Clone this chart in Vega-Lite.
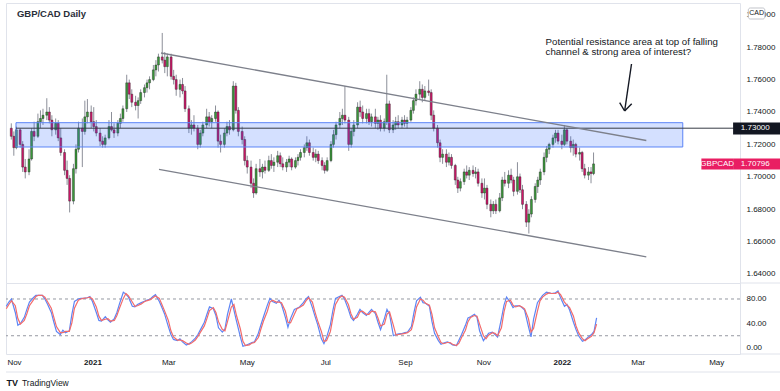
{
"$schema":"https://vega.github.io/schema/vega-lite/v6.json",
"background":"#ffffff",
"padding":{"left":3,"top":2,"right":0,"bottom":0},
"spacing":0,
"bounds":"flush",
"config":{
 "view":{"stroke":"#e0e3eb"},
 "axis":{"labelFont":"Liberation Sans","labelFontSize":8,"labelColor":"#131722","ticks":false,"domain":false,"grid":false,"labelPadding":6,"title":null,"labelOverlap":false,"labelFlush":false},
 "text":{"font":"Liberation Sans"}
},
"datasets":{
"px":[
{"t":"2020-10-26","o":1.7300,"h":1.7330,"l":1.7230,"c":1.7250,"k":68,"d":64},
{"t":"2020-10-28","o":1.7250,"h":1.7280,"l":1.7130,"c":1.7180,"k":75,"d":71},
{"t":"2020-10-30","o":1.7180,"h":1.7310,"l":1.7170,"c":1.7290,"k":80,"d":77},
{"t":"2020-11-02","o":1.7290,"h":1.7300,"l":1.7180,"c":1.7200,"k":58,"d":69},
{"t":"2020-11-04","o":1.7200,"h":1.7220,"l":1.7030,"c":1.7060,"k":37,"d":48},
{"t":"2020-11-06","o":1.7060,"h":1.7110,"l":1.6990,"c":1.7030,"k":40,"d":39},
{"t":"2020-11-09","o":1.7030,"h":1.7170,"l":1.7010,"c":1.7110,"k":50,"d":45},
{"t":"2020-11-11","o":1.7110,"h":1.7300,"l":1.7100,"c":1.7280,"k":63,"d":56},
{"t":"2020-11-13","o":1.7280,"h":1.7340,"l":1.7220,"c":1.7250,"k":75,"d":69},
{"t":"2020-11-16","o":1.7250,"h":1.7390,"l":1.7240,"c":1.7340,"k":82,"d":78},
{"t":"2020-11-18","o":1.7340,"h":1.7410,"l":1.7300,"c":1.7360,"k":86,"d":84},
{"t":"2020-11-20","o":1.7360,"h":1.7420,"l":1.7320,"c":1.7380,"k":86,"d":86},
{"t":"2020-11-23","o":1.7380,"h":1.7485,"l":1.7350,"c":1.7400,"k":86,"d":86},
{"t":"2020-11-25","o":1.7400,"h":1.7430,"l":1.7330,"c":1.7350,"k":80,"d":83},
{"t":"2020-11-27","o":1.7350,"h":1.7380,"l":1.7250,"c":1.7290,"k":72,"d":76},
{"t":"2020-11-30","o":1.7290,"h":1.7360,"l":1.7260,"c":1.7330,"k":58,"d":65},
{"t":"2020-12-02","o":1.7330,"h":1.7350,"l":1.7220,"c":1.7240,"k":42,"d":50},
{"t":"2020-12-04","o":1.7240,"h":1.7300,"l":1.7130,"c":1.7150,"k":27,"d":35},
{"t":"2020-12-07","o":1.7150,"h":1.7170,"l":1.7010,"c":1.7040,"k":22,"d":25},
{"t":"2020-12-09","o":1.7040,"h":1.7100,"l":1.6950,"c":1.6990,"k":29,"d":25},
{"t":"2020-12-11","o":1.6990,"h":1.7010,"l":1.6780,"c":1.6850,"k":25,"d":27},
{"t":"2020-12-14","o":1.6850,"h":1.7080,"l":1.6830,"c":1.7050,"k":28,"d":27},
{"t":"2020-12-16","o":1.7050,"h":1.7200,"l":1.7020,"c":1.7170,"k":55,"d":41},
{"t":"2020-12-18","o":1.7170,"h":1.7340,"l":1.7150,"c":1.7300,"k":76,"d":65},
{"t":"2020-12-21","o":1.7300,"h":1.7360,"l":1.7060,"c":1.7280,"k":80,"d":78},
{"t":"2020-12-23","o":1.7280,"h":1.7470,"l":1.7260,"c":1.7370,"k":81,"d":80},
{"t":"2020-12-25","o":1.7370,"h":1.7480,"l":1.7330,"c":1.7400,"k":81,"d":81},
{"t":"2020-12-28","o":1.7400,"h":1.7440,"l":1.7300,"c":1.7340,"k":82,"d":82},
{"t":"2020-12-30","o":1.7340,"h":1.7430,"l":1.7280,"c":1.7310,"k":84,"d":83},
{"t":"2021-01-01","o":1.7310,"h":1.7350,"l":1.7250,"c":1.7270,"k":76,"d":80},
{"t":"2021-01-04","o":1.7270,"h":1.7300,"l":1.7190,"c":1.7220,"k":58,"d":67},
{"t":"2021-01-06","o":1.7220,"h":1.7250,"l":1.7180,"c":1.7200,"k":45,"d":52},
{"t":"2021-01-08","o":1.7200,"h":1.7260,"l":1.7180,"c":1.7240,"k":44,"d":45},
{"t":"2021-01-11","o":1.7240,"h":1.7350,"l":1.7230,"c":1.7310,"k":51,"d":47},
{"t":"2021-01-13","o":1.7310,"h":1.7400,"l":1.7280,"c":1.7290,"k":46,"d":48},
{"t":"2021-01-15","o":1.7290,"h":1.7330,"l":1.7240,"c":1.7270,"k":42,"d":44},
{"t":"2021-01-18","o":1.7270,"h":1.7350,"l":1.7250,"c":1.7330,"k":48,"d":45},
{"t":"2021-01-20","o":1.7330,"h":1.7390,"l":1.7300,"c":1.7360,"k":58,"d":53},
{"t":"2021-01-22","o":1.7360,"h":1.7440,"l":1.7340,"c":1.7420,"k":72,"d":65},
{"t":"2021-01-25","o":1.7420,"h":1.7630,"l":1.7400,"c":1.7580,"k":91,"d":81},
{"t":"2021-01-27","o":1.7580,"h":1.7600,"l":1.7480,"c":1.7510,"k":88,"d":89},
{"t":"2021-01-29","o":1.7510,"h":1.7540,"l":1.7430,"c":1.7460,"k":83,"d":85},
{"t":"2021-02-01","o":1.7460,"h":1.7500,"l":1.7410,"c":1.7440,"k":68,"d":75},
{"t":"2021-02-03","o":1.7440,"h":1.7490,"l":1.7360,"c":1.7470,"k":67,"d":68},
{"t":"2021-02-05","o":1.7470,"h":1.7540,"l":1.7450,"c":1.7520,"k":71,"d":69},
{"t":"2021-02-08","o":1.7520,"h":1.7570,"l":1.7490,"c":1.7550,"k":74,"d":72},
{"t":"2021-02-10","o":1.7550,"h":1.7600,"l":1.7520,"c":1.7580,"k":76,"d":75},
{"t":"2021-02-12","o":1.7580,"h":1.7620,"l":1.7540,"c":1.7600,"k":78,"d":77},
{"t":"2021-02-15","o":1.7600,"h":1.7690,"l":1.7590,"c":1.7660,"k":80,"d":79},
{"t":"2021-02-17","o":1.7660,"h":1.7720,"l":1.7620,"c":1.7690,"k":84,"d":82},
{"t":"2021-02-19","o":1.7690,"h":1.7760,"l":1.7650,"c":1.7740,"k":87,"d":85},
{"t":"2021-02-22","o":1.7740,"h":1.7888,"l":1.7700,"c":1.7720,"k":76,"d":81},
{"t":"2021-02-24","o":1.7720,"h":1.7770,"l":1.7640,"c":1.7680,"k":66,"d":71},
{"t":"2021-02-26","o":1.7680,"h":1.7760,"l":1.7620,"c":1.7740,"k":56,"d":61},
{"t":"2021-03-01","o":1.7740,"h":1.7760,"l":1.7600,"c":1.7620,"k":35,"d":45},
{"t":"2021-03-03","o":1.7620,"h":1.7660,"l":1.7570,"c":1.7600,"k":22,"d":28},
{"t":"2021-03-05","o":1.7600,"h":1.7630,"l":1.7500,"c":1.7540,"k":14,"d":18},
{"t":"2021-03-08","o":1.7540,"h":1.7600,"l":1.7490,"c":1.7570,"k":12,"d":13},
{"t":"2021-03-10","o":1.7570,"h":1.7610,"l":1.7510,"c":1.7530,"k":15,"d":13},
{"t":"2021-03-12","o":1.7530,"h":1.7560,"l":1.7400,"c":1.7420,"k":10,"d":12},
{"t":"2021-03-15","o":1.7420,"h":1.7440,"l":1.7270,"c":1.7300,"k":5,"d":8},
{"t":"2021-03-17","o":1.7300,"h":1.7350,"l":1.7260,"c":1.7320,"k":7,"d":6},
{"t":"2021-03-19","o":1.7320,"h":1.7380,"l":1.7280,"c":1.7300,"k":10,"d":8},
{"t":"2021-03-22","o":1.7300,"h":1.7320,"l":1.7170,"c":1.7200,"k":16,"d":13},
{"t":"2021-03-24","o":1.7200,"h":1.7290,"l":1.7180,"c":1.7270,"k":22,"d":19},
{"t":"2021-03-26","o":1.7270,"h":1.7340,"l":1.7250,"c":1.7320,"k":30,"d":26},
{"t":"2021-03-29","o":1.7320,"h":1.7420,"l":1.7300,"c":1.7370,"k":42,"d":36},
{"t":"2021-03-31","o":1.7370,"h":1.7400,"l":1.7310,"c":1.7340,"k":55,"d":48},
{"t":"2021-04-02","o":1.7340,"h":1.7380,"l":1.7300,"c":1.7360,"k":67,"d":61},
{"t":"2021-04-05","o":1.7360,"h":1.7440,"l":1.7340,"c":1.7400,"k":64,"d":66},
{"t":"2021-04-07","o":1.7400,"h":1.7410,"l":1.7180,"c":1.7220,"k":53,"d":58},
{"t":"2021-04-09","o":1.7220,"h":1.7260,"l":1.7150,"c":1.7200,"k":33,"d":43},
{"t":"2021-04-12","o":1.7200,"h":1.7300,"l":1.7180,"c":1.7270,"k":26,"d":30},
{"t":"2021-04-14","o":1.7270,"h":1.7340,"l":1.7250,"c":1.7310,"k":31,"d":28},
{"t":"2021-04-16","o":1.7310,"h":1.7350,"l":1.7260,"c":1.7290,"k":55,"d":43},
{"t":"2021-04-19","o":1.7290,"h":1.7590,"l":1.7280,"c":1.7560,"k":80,"d":67},
{"t":"2021-04-21","o":1.7560,"h":1.7580,"l":1.7390,"c":1.7410,"k":62,"d":71},
{"t":"2021-04-23","o":1.7410,"h":1.7430,"l":1.7250,"c":1.7280,"k":44,"d":53},
{"t":"2021-04-26","o":1.7280,"h":1.7310,"l":1.7200,"c":1.7230,"k":18,"d":31},
{"t":"2021-04-28","o":1.7230,"h":1.7250,"l":1.7070,"c":1.7100,"k":3,"d":11},
{"t":"2021-04-30","o":1.7100,"h":1.7130,"l":1.7020,"c":1.7060,"k":4,"d":4},
{"t":"2021-05-03","o":1.7060,"h":1.7100,"l":1.6930,"c":1.6960,"k":7,"d":5},
{"t":"2021-05-05","o":1.6960,"h":1.6990,"l":1.6870,"c":1.6900,"k":9,"d":8},
{"t":"2021-05-07","o":1.6900,"h":1.7080,"l":1.6890,"c":1.7050,"k":10,"d":9},
{"t":"2021-05-10","o":1.7050,"h":1.7110,"l":1.7000,"c":1.7030,"k":24,"d":17},
{"t":"2021-05-12","o":1.7030,"h":1.7080,"l":1.6990,"c":1.7060,"k":38,"d":31},
{"t":"2021-05-14","o":1.7060,"h":1.7100,"l":1.7020,"c":1.7040,"k":51,"d":44},
{"t":"2021-05-17","o":1.7040,"h":1.7130,"l":1.7030,"c":1.7100,"k":70,"d":60},
{"t":"2021-05-19","o":1.7100,"h":1.7140,"l":1.7050,"c":1.7070,"k":81,"d":75},
{"t":"2021-05-21","o":1.7070,"h":1.7120,"l":1.7030,"c":1.7090,"k":76,"d":78},
{"t":"2021-05-24","o":1.7090,"h":1.7160,"l":1.7060,"c":1.7130,"k":73,"d":75},
{"t":"2021-05-26","o":1.7130,"h":1.7150,"l":1.7060,"c":1.7080,"k":78,"d":75},
{"t":"2021-05-28","o":1.7080,"h":1.7120,"l":1.7040,"c":1.7060,"k":71,"d":74},
{"t":"2021-05-31","o":1.7060,"h":1.7110,"l":1.7030,"c":1.7090,"k":50,"d":60},
{"t":"2021-06-02","o":1.7090,"h":1.7130,"l":1.7060,"c":1.7110,"k":34,"d":42},
{"t":"2021-06-04","o":1.7110,"h":1.7120,"l":1.7040,"c":1.7060,"k":48,"d":41},
{"t":"2021-06-07","o":1.7060,"h":1.7120,"l":1.7050,"c":1.7100,"k":63,"d":55},
{"t":"2021-06-09","o":1.7100,"h":1.7140,"l":1.7070,"c":1.7120,"k":65,"d":64},
{"t":"2021-06-11","o":1.7120,"h":1.7170,"l":1.7100,"c":1.7150,"k":67,"d":66},
{"t":"2021-06-14","o":1.7150,"h":1.7200,"l":1.7120,"c":1.7180,"k":74,"d":70},
{"t":"2021-06-16","o":1.7180,"h":1.7250,"l":1.7160,"c":1.7210,"k":80,"d":77},
{"t":"2021-06-18","o":1.7210,"h":1.7230,"l":1.7130,"c":1.7150,"k":84,"d":82},
{"t":"2021-06-21","o":1.7150,"h":1.7180,"l":1.7100,"c":1.7120,"k":66,"d":75},
{"t":"2021-06-23","o":1.7120,"h":1.7170,"l":1.7090,"c":1.7140,"k":52,"d":59},
{"t":"2021-06-25","o":1.7140,"h":1.7160,"l":1.7080,"c":1.7100,"k":39,"d":45},
{"t":"2021-06-28","o":1.7100,"h":1.7120,"l":1.7040,"c":1.7070,"k":15,"d":27},
{"t":"2021-06-30","o":1.7070,"h":1.7090,"l":1.7020,"c":1.7040,"k":7,"d":11},
{"t":"2021-07-02","o":1.7040,"h":1.7120,"l":1.7030,"c":1.7100,"k":17,"d":12},
{"t":"2021-07-05","o":1.7100,"h":1.7220,"l":1.7090,"c":1.7200,"k":38,"d":27},
{"t":"2021-07-07","o":1.7200,"h":1.7290,"l":1.7180,"c":1.7260,"k":62,"d":50},
{"t":"2021-07-09","o":1.7260,"h":1.7340,"l":1.7230,"c":1.7320,"k":81,"d":71},
{"t":"2021-07-12","o":1.7320,"h":1.7400,"l":1.7300,"c":1.7360,"k":84,"d":82},
{"t":"2021-07-14","o":1.7360,"h":1.7420,"l":1.7320,"c":1.7380,"k":86,"d":85},
{"t":"2021-07-16","o":1.7380,"h":1.7560,"l":1.7330,"c":1.7350,"k":80,"d":83},
{"t":"2021-07-19","o":1.7350,"h":1.7370,"l":1.7160,"c":1.7200,"k":63,"d":71},
{"t":"2021-07-21","o":1.7200,"h":1.7300,"l":1.7180,"c":1.7280,"k":50,"d":56},
{"t":"2021-07-23","o":1.7280,"h":1.7350,"l":1.7250,"c":1.7320,"k":45,"d":47},
{"t":"2021-07-26","o":1.7320,"h":1.7460,"l":1.7300,"c":1.7430,"k":55,"d":50},
{"t":"2021-07-28","o":1.7430,"h":1.7470,"l":1.7370,"c":1.7400,"k":63,"d":59},
{"t":"2021-07-30","o":1.7400,"h":1.7440,"l":1.7330,"c":1.7360,"k":58,"d":60},
{"t":"2021-08-02","o":1.7360,"h":1.7420,"l":1.7330,"c":1.7390,"k":53,"d":55},
{"t":"2021-08-04","o":1.7390,"h":1.7420,"l":1.7320,"c":1.7340,"k":58,"d":55},
{"t":"2021-08-06","o":1.7340,"h":1.7390,"l":1.7310,"c":1.7370,"k":63,"d":60},
{"t":"2021-08-09","o":1.7370,"h":1.7420,"l":1.7300,"c":1.7330,"k":56,"d":59},
{"t":"2021-08-11","o":1.7330,"h":1.7370,"l":1.7290,"c":1.7350,"k":42,"d":49},
{"t":"2021-08-13","o":1.7350,"h":1.7380,"l":1.7280,"c":1.7300,"k":30,"d":36},
{"t":"2021-08-16","o":1.7300,"h":1.7360,"l":1.7280,"c":1.7340,"k":48,"d":39},
{"t":"2021-08-18","o":1.7340,"h":1.7630,"l":1.7320,"c":1.7450,"k":63,"d":55},
{"t":"2021-08-20","o":1.7450,"h":1.7470,"l":1.7270,"c":1.7290,"k":55,"d":59},
{"t":"2021-08-23","o":1.7290,"h":1.7350,"l":1.7270,"c":1.7320,"k":20,"d":37},
{"t":"2021-08-25","o":1.7320,"h":1.7370,"l":1.7290,"c":1.7340,"k":22,"d":21},
{"t":"2021-08-27","o":1.7340,"h":1.7380,"l":1.7300,"c":1.7320,"k":23,"d":22},
{"t":"2021-08-30","o":1.7320,"h":1.7370,"l":1.7300,"c":1.7350,"k":24,"d":23},
{"t":"2021-09-01","o":1.7350,"h":1.7380,"l":1.7310,"c":1.7330,"k":25,"d":24},
{"t":"2021-09-03","o":1.7330,"h":1.7370,"l":1.7300,"c":1.7350,"k":26,"d":25},
{"t":"2021-09-06","o":1.7350,"h":1.7430,"l":1.7340,"c":1.7410,"k":35,"d":30},
{"t":"2021-09-08","o":1.7410,"h":1.7490,"l":1.7390,"c":1.7470,"k":58,"d":46},
{"t":"2021-09-10","o":1.7470,"h":1.7540,"l":1.7440,"c":1.7510,"k":77,"d":67},
{"t":"2021-09-13","o":1.7510,"h":1.7590,"l":1.7480,"c":1.7540,"k":83,"d":80},
{"t":"2021-09-15","o":1.7540,"h":1.7570,"l":1.7460,"c":1.7490,"k":74,"d":78},
{"t":"2021-09-17","o":1.7490,"h":1.7560,"l":1.7470,"c":1.7530,"k":73,"d":73},
{"t":"2021-09-20","o":1.7530,"h":1.7600,"l":1.7500,"c":1.7520,"k":68,"d":70},
{"t":"2021-09-22","o":1.7520,"h":1.7540,"l":1.7350,"c":1.7380,"k":43,"d":55},
{"t":"2021-09-24","o":1.7380,"h":1.7410,"l":1.7280,"c":1.7300,"k":24,"d":33},
{"t":"2021-09-27","o":1.7300,"h":1.7320,"l":1.7180,"c":1.7210,"k":12,"d":18},
{"t":"2021-09-29","o":1.7210,"h":1.7230,"l":1.7090,"c":1.7120,"k":6,"d":9},
{"t":"2021-10-01","o":1.7120,"h":1.7170,"l":1.7080,"c":1.7140,"k":8,"d":7},
{"t":"2021-10-04","o":1.7140,"h":1.7170,"l":1.7060,"c":1.7090,"k":10,"d":9},
{"t":"2021-10-06","o":1.7090,"h":1.7150,"l":1.7070,"c":1.7120,"k":8,"d":9},
{"t":"2021-10-08","o":1.7120,"h":1.7140,"l":1.7050,"c":1.7070,"k":5,"d":6},
{"t":"2021-10-11","o":1.7070,"h":1.7080,"l":1.6950,"c":1.6980,"k":4,"d":4},
{"t":"2021-10-13","o":1.6980,"h":1.7000,"l":1.6900,"c":1.6930,"k":13,"d":8},
{"t":"2021-10-15","o":1.6930,"h":1.6990,"l":1.6910,"c":1.6970,"k":22,"d":17},
{"t":"2021-10-18","o":1.6970,"h":1.7050,"l":1.6950,"c":1.7030,"k":37,"d":29},
{"t":"2021-10-20","o":1.7030,"h":1.7070,"l":1.6990,"c":1.7010,"k":49,"d":43},
{"t":"2021-10-22","o":1.7010,"h":1.7060,"l":1.6980,"c":1.7040,"k":51,"d":50},
{"t":"2021-10-25","o":1.7040,"h":1.7070,"l":1.7000,"c":1.7020,"k":55,"d":53},
{"t":"2021-10-27","o":1.7020,"h":1.7060,"l":1.6990,"c":1.7030,"k":50,"d":52},
{"t":"2021-10-29","o":1.7030,"h":1.7050,"l":1.6940,"c":1.6960,"k":28,"d":39},
{"t":"2021-11-01","o":1.6960,"h":1.6990,"l":1.6870,"c":1.6900,"k":12,"d":20},
{"t":"2021-11-03","o":1.6900,"h":1.6990,"l":1.6860,"c":1.6930,"k":18,"d":15},
{"t":"2021-11-05","o":1.6930,"h":1.6950,"l":1.6800,"c":1.6830,"k":24,"d":21},
{"t":"2021-11-08","o":1.6830,"h":1.6860,"l":1.6750,"c":1.6790,"k":26,"d":25},
{"t":"2021-11-10","o":1.6790,"h":1.6850,"l":1.6770,"c":1.6830,"k":22,"d":24},
{"t":"2021-11-12","o":1.6830,"h":1.6860,"l":1.6770,"c":1.6790,"k":18,"d":20},
{"t":"2021-11-15","o":1.6790,"h":1.6900,"l":1.6780,"c":1.6870,"k":48,"d":33},
{"t":"2021-11-17","o":1.6870,"h":1.7000,"l":1.6850,"c":1.6980,"k":70,"d":59},
{"t":"2021-11-19","o":1.6980,"h":1.7030,"l":1.6940,"c":1.6960,"k":83,"d":76},
{"t":"2021-11-22","o":1.6960,"h":1.7040,"l":1.6930,"c":1.7010,"k":74,"d":78},
{"t":"2021-11-24","o":1.7010,"h":1.7050,"l":1.6960,"c":1.6980,"k":66,"d":70},
{"t":"2021-11-26","o":1.6980,"h":1.7000,"l":1.6880,"c":1.6910,"k":69,"d":67},
{"t":"2021-11-29","o":1.6910,"h":1.7090,"l":1.6890,"c":1.7000,"k":69,"d":69},
{"t":"2021-12-01","o":1.7000,"h":1.7020,"l":1.6900,"c":1.6920,"k":66,"d":67},
{"t":"2021-12-03","o":1.6920,"h":1.6950,"l":1.6800,"c":1.6830,"k":62,"d":64},
{"t":"2021-12-06","o":1.6830,"h":1.6850,"l":1.6690,"c":1.6720,"k":35,"d":48},
{"t":"2021-12-08","o":1.6720,"h":1.6800,"l":1.6650,"c":1.6770,"k":18,"d":26},
{"t":"2021-12-10","o":1.6770,"h":1.6880,"l":1.6750,"c":1.6860,"k":47,"d":32},
{"t":"2021-12-13","o":1.6860,"h":1.6960,"l":1.6840,"c":1.6940,"k":74,"d":60},
{"t":"2021-12-15","o":1.6940,"h":1.7000,"l":1.6900,"c":1.6980,"k":80,"d":77},
{"t":"2021-12-17","o":1.6980,"h":1.7050,"l":1.6950,"c":1.7030,"k":86,"d":83},
{"t":"2021-12-20","o":1.7030,"h":1.7150,"l":1.7010,"c":1.7120,"k":91,"d":88},
{"t":"2021-12-22","o":1.7120,"h":1.7190,"l":1.7090,"c":1.7170,"k":90,"d":90},
{"t":"2021-12-24","o":1.7170,"h":1.7210,"l":1.7140,"c":1.7200,"k":89,"d":89},
{"t":"2021-12-27","o":1.7200,"h":1.7260,"l":1.7180,"c":1.7240,"k":90,"d":89},
{"t":"2021-12-29","o":1.7240,"h":1.7290,"l":1.7210,"c":1.7270,"k":93,"d":91},
{"t":"2021-12-31","o":1.7270,"h":1.7290,"l":1.7200,"c":1.7220,"k":82,"d":87},
{"t":"2022-01-03","o":1.7220,"h":1.7260,"l":1.7170,"c":1.7200,"k":68,"d":75},
{"t":"2022-01-05","o":1.7200,"h":1.7320,"l":1.7190,"c":1.7290,"k":71,"d":70},
{"t":"2022-01-07","o":1.7290,"h":1.7300,"l":1.7200,"c":1.7220,"k":62,"d":66},
{"t":"2022-01-10","o":1.7220,"h":1.7250,"l":1.7150,"c":1.7180,"k":42,"d":52},
{"t":"2022-01-12","o":1.7180,"h":1.7230,"l":1.7130,"c":1.7200,"k":30,"d":36},
{"t":"2022-01-14","o":1.7200,"h":1.7210,"l":1.7120,"c":1.7140,"k":20,"d":25},
{"t":"2022-01-17","o":1.7140,"h":1.7180,"l":1.7100,"c":1.7150,"k":11,"d":15},
{"t":"2022-01-19","o":1.7150,"h":1.7160,"l":1.7030,"c":1.7050,"k":13,"d":12},
{"t":"2022-01-21","o":1.7050,"h":1.7080,"l":1.6990,"c":1.7010,"k":17,"d":15},
{"t":"2022-01-24","o":1.7010,"h":1.7060,"l":1.6980,"c":1.7030,"k":22,"d":19},
{"t":"2022-01-26","o":1.7030,"h":1.7060,"l":1.6960,"c":1.7020,"k":27,"d":25},
{"t":"2022-01-28","o":1.7020,"h":1.7150,"l":1.7010,"c":1.70796,"k":49,"d":39}
],
"seg":[
{"g":"level","x1":"2020-10-29T17:00:00Z","y1":1.73,"x2":"2022-05-19T12:00:00Z","y2":1.73},
{"g":"trend","x1":"2021-02-21T00:00:00Z","y1":1.77642,"x2":"2022-03-10T14:00:00Z","y2":1.72241},
{"g":"trend","x1":"2021-02-19T10:00:00Z","y1":1.70457,"x2":"2022-03-10T14:00:00Z","y2":1.65062},
{"g":"arrow","x1":"2022-02-26T22:00:00Z","y1":1.76963,"x2":"2022-02-21T12:00:00Z","y2":1.74062},
{"g":"arrow","x1":"2022-02-17T14:00:00Z","y1":1.74574,"x2":"2022-02-21T12:00:00Z","y2":1.74062},
{"g":"arrow","x1":"2022-02-27T02:00:00Z","y1":1.74512,"x2":"2022-02-21T12:00:00Z","y2":1.74062}
],
"zone":[
{"x1":"2020-10-29T17:00:00Z","x2":"2022-04-08T08:00:00Z","y1":1.7334,"y2":1.7184}
],
"notes":[
{"k":"title","x":"2020-10-30T10:00:00Z","y":1.8002,"txt":"GBP/CAD Daily"},
{"k":"note","x":"2021-12-21T05:00:00Z","y":1.7829,"txt":"Potential resistance area at top of falling"},
{"k":"note","x":"2021-12-21T05:00:00Z","y":1.77673,"txt":"channel & strong area of interest?"}
],
"tags":[
{"s":"level","txt":"1.73000","x1":"2022-05-18T00:00:00Z","x2":"2022-06-25T00:00:00Z","xc":"2022-06-04T12:00:00Z","y1":1.73352,"y2":1.72611,"yc":1.73},
{"s":"last","txt":"1.70796","x1":"2022-05-18T00:00:00Z","x2":"2022-06-25T00:00:00Z","xc":"2022-06-04T12:00:00Z","y1":1.7113,"y2":1.70451,"yc":1.70796},
{"s":"last","txt":"GBPCAD","x1":"2022-04-23T00:00:00Z","x2":"2022-05-18T00:00:00Z","xc":"2022-05-05T12:00:00Z","y1":1.7113,"y2":1.70451,"yc":1.70796},
{"s":"cad","txt":"CAD","x1":"2022-05-30T00:00:00Z","x2":"2022-06-12T00:00:00Z","xc":"2022-06-05T12:00:00Z","y1":1.8042,"y2":1.7974,"yc":1.8008}
],
"foot":[
{"k":"rule","xa":"2020-10-25T18:40:00Z","xb":"2022-06-25T00:00:00Z","y":-39.2},
{"k":"ext","xa":"2022-05-19T12:00:00Z","xb":"2022-06-25T00:00:00Z","y":106.1},
{"k":"ext","xa":"2022-05-19T12:00:00Z","xb":"2022-06-25T00:00:00Z","y":-9.8}
],
"brand":[
{"k":"logo","x":"2020-10-26T04:00:00Z","y":-57.1,"txt":"TV"},
{"k":"name","x":"2020-11-07T05:00:00Z","y":-57.1,"txt":"TradingView"}
]
},
"vconcat":[
{
"width":734,"height":280,
"layer":[
 {"data":{"name":"px"},"mark":{"type":"rule","color":"#8c8f99","strokeWidth":1},
  "encoding":{
   "x":{"field":"t","type":"temporal","scale":{"type":"utc","domain":[{"year":2020,"month":10,"date":25,"hours":18,"minutes":40,"utc":true},{"year":2022,"month":5,"date":19,"hours":12,"utc":true}]},"axis":null},
   "y":{"field":"l","type":"quantitative","scale":{"domain":[1.63444,1.80728],"nice":false,"zero":false},"axis":{"orient":"right","title":null,"values":[1.64,1.66,1.68,1.70,1.72,1.74,1.76,1.78,1.80],"tickCount":30,"format":".5f","labelOverlap":false}},
   "y2":{"field":"h"}}},
 {"data":{"name":"px"},"mark":{"type":"bar","width":2,"stroke":"#1e1e1e","strokeWidth":0.4},
  "encoding":{
   "x":{"field":"t","type":"temporal","axis":null},
   "y":{"field":"o","type":"quantitative"},
   "y2":{"field":"c"},
   "fill":{"condition":{"test":"datum.c>=datum.o","value":"#3b9a3b"},"value":"#d0176a"}}},
 {"data":{"name":"zone"},"mark":{"type":"rect","fill":"#2962ff","fillOpacity":0.2,"stroke":"#5b84f7","strokeWidth":1},
  "encoding":{"x":{"field":"x1","type":"temporal","axis":null},"x2":{"field":"x2"},"y":{"field":"y1","type":"quantitative"},"y2":{"field":"y2"}}},
 {"data":{"name":"seg"},"transform":[{"filter":"datum.g=='level'"}],"mark":{"type":"rule","color":"#363a45","strokeWidth":1},
  "encoding":{"x":{"field":"x1","type":"temporal","axis":null},"x2":{"field":"x2"},"y":{"field":"y1","type":"quantitative"},"y2":{"field":"y2"}}},
 {"data":{"name":"seg"},"transform":[{"filter":"datum.g=='trend'"}],"mark":{"type":"rule","color":"#7d808b","strokeWidth":1.3},
  "encoding":{"x":{"field":"x1","type":"temporal","axis":null},"x2":{"field":"x2"},"y":{"field":"y1","type":"quantitative"},"y2":{"field":"y2"}}},
 {"data":{"name":"seg"},"transform":[{"filter":"datum.g=='arrow'"}],"mark":{"type":"rule","color":"#131722","strokeWidth":1.4},
  "encoding":{"x":{"field":"x1","type":"temporal","axis":null},"x2":{"field":"x2"},"y":{"field":"y1","type":"quantitative"},"y2":{"field":"y2"}}},
 {"data":{"name":"notes"},"transform":[{"filter":"datum.k=='title'"}],"mark":{"type":"text","align":"left","baseline":"middle","fontSize":9.5,"fontWeight":"bold","color":"#2a2e39"},
  "encoding":{"x":{"field":"x","type":"temporal","axis":null},"y":{"field":"y","type":"quantitative"},"text":{"field":"txt"}}},
 {"data":{"name":"notes"},"transform":[{"filter":"datum.k=='note'"}],"mark":{"type":"text","align":"left","baseline":"middle","fontSize":9.7,"color":"#131722"},
  "encoding":{"x":{"field":"x","type":"temporal","axis":null},"y":{"field":"y","type":"quantitative"},"text":{"field":"txt"}}},
 {"data":{"name":"tags"},"transform":[{"filter":"datum.s!='cad'"}],"mark":{"type":"rect"},
  "encoding":{"x":{"field":"x1","type":"temporal","axis":null},"x2":{"field":"x2"},"y":{"field":"y1","type":"quantitative"},"y2":{"field":"y2"},
   "fill":{"condition":{"test":"datum.s=='level'","value":"#131722"},"value":"#e91e63"}}},
 {"data":{"name":"tags"},"transform":[{"filter":"datum.s!='cad'"}],"mark":{"type":"text","align":"center","baseline":"middle","fontSize":8,"color":"#ffffff"},
  "encoding":{"x":{"field":"xc","type":"temporal","axis":null},"y":{"field":"yc","type":"quantitative"},"text":{"field":"txt"}}},
 {"data":{"name":"tags"},"transform":[{"filter":"datum.s=='cad'"}],"mark":{"type":"rect","fill":"#ffffff","stroke":"#b2b5be","strokeWidth":0.8,"cornerRadius":2},
  "encoding":{"x":{"field":"x1","type":"temporal","axis":null},"x2":{"field":"x2"},"y":{"field":"y1","type":"quantitative"},"y2":{"field":"y2"}}},
 {"data":{"name":"tags"},"transform":[{"filter":"datum.s=='cad'"}],"mark":{"type":"text","align":"center","baseline":"middle","fontSize":7,"color":"#131722"},
  "encoding":{"x":{"field":"xc","type":"temporal","axis":null},"y":{"field":"yc","type":"quantitative"},"text":{"field":"txt"}}}
]
},
{
"width":734,"height":71,
"layer":[
 {"data":{"values":[{"lv":80},{"lv":20}]},"mark":{"type":"rule","strokeDash":[3,3],"color":"#9598a1","strokeWidth":1},
  "encoding":{"y":{"field":"lv","type":"quantitative","scale":{"domain":[-9.8,106.1],"nice":false,"zero":false},"axis":{"orient":"right","title":null,"values":[0,40,80],"tickCount":30,"format":".2f","labelOverlap":false}}}},
 {"data":{"name":"px"},"mark":{"type":"line","color":"#5d85f5","strokeWidth":1.2},
  "encoding":{
   "x":{"field":"t","type":"temporal","scale":{"type":"utc","domain":[{"year":2020,"month":10,"date":25,"hours":18,"minutes":40,"utc":true},{"year":2022,"month":5,"date":19,"hours":12,"utc":true}]},
    "axis":{"orient":"bottom","title":null,"values":[{"year":2020,"month":11,"date":1,"utc":true},{"year":2021,"month":1,"date":1,"utc":true},{"year":2021,"month":3,"date":1,"utc":true},{"year":2021,"month":5,"date":1,"utc":true},{"year":2021,"month":7,"date":1,"utc":true},{"year":2021,"month":9,"date":1,"utc":true},{"year":2021,"month":11,"date":1,"utc":true},{"year":2022,"month":1,"date":1,"utc":true},{"year":2022,"month":3,"date":1,"utc":true},{"year":2022,"month":5,"date":1,"utc":true}],
     "tickCount":40,
     "labelExpr":"utcmonth(datum.value)==0 ? utcFormat(datum.value,'%Y') : utcFormat(datum.value,'%b')",
     "labelFontWeight":{"condition":{"test":"utcmonth(datum.value)==0","value":"bold"},"value":"normal"},
     "labelPadding":4,"labelFlush":false,"labelOverlap":false}},
   "y":{"field":"k","type":"quantitative"}}},
 {"data":{"name":"px"},"mark":{"type":"line","color":"#f26b6b","strokeWidth":1.2},
  "encoding":{"x":{"field":"t","type":"temporal"},"y":{"field":"d","type":"quantitative"}}},
 {"data":{"name":"foot"},"mark":{"type":"rule","color":"#e0e3eb","strokeWidth":1},
  "encoding":{"x":{"field":"xa","type":"temporal"},"x2":{"field":"xb"},"y":{"field":"y","type":"quantitative"}}},
 {"data":{"name":"brand"},"transform":[{"filter":"datum.k=='name'"}],"mark":{"type":"text","align":"left","baseline":"middle","fontSize":8.5,"color":"#131722"},
  "encoding":{"x":{"field":"x","type":"temporal"},"y":{"field":"y","type":"quantitative"},"text":{"field":"txt"}}},
 {"data":{"name":"brand"},"transform":[{"filter":"datum.k=='logo'"}],"mark":{"type":"text","align":"left","baseline":"middle","fontSize":9,"fontWeight":"bold","color":"#131722"},
  "encoding":{"x":{"field":"x","type":"temporal"},"y":{"field":"y","type":"quantitative"},"text":{"field":"txt"}}}
]
}
]
}
